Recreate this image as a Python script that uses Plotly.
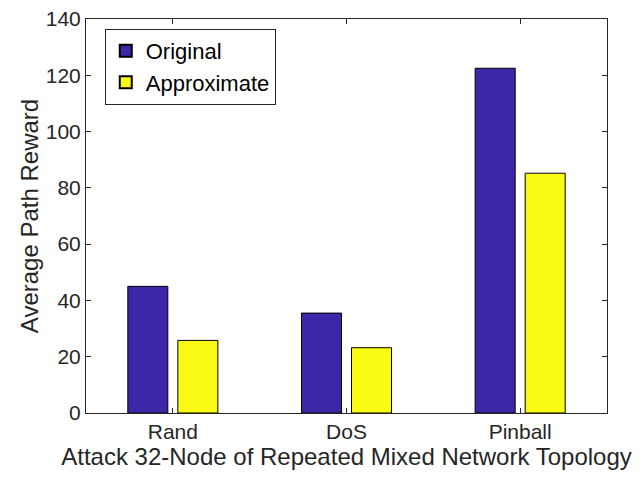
import plotly.graph_objects as go

categories = ["Rand", "DoS", "Pinball"]
original = [45.0, 35.5, 122.5]
approximate = [25.8, 23.2, 85.2]

fig = go.Figure()
fig.add_trace(go.Bar(
    x=[1, 2, 3], y=original, name="Original",
    marker=dict(color="#3E26A8", line=dict(color="black", width=1)),
))
fig.add_trace(go.Bar(
    x=[1, 2, 3], y=approximate, name="Approximate",
    marker=dict(color="#F9FB15", line=dict(color="black", width=1)),
))

axis_common = dict(
    showline=True, linecolor="#262626", linewidth=1, mirror="ticks",
    ticks="inside", ticklen=5, tickcolor="#262626", showgrid=False, zeroline=False,
    tickfont=dict(size=21, color="#262626"),
    ticklabeloverflow="allow", automargin=False,
)

# the page body adds an 8px offset, so the figure is shrunk by that amount
fig.update_layout(
    width=635, height=474,
    margin=dict(l=78, r=36, t=11, b=69),
    paper_bgcolor="white", plot_bgcolor="white",
    font=dict(family="Liberation Sans, Arial, sans-serif", color="#262626"),
    barmode="group", bargap=0.424, bargroupgap=0.2,
    xaxis=dict(
        range=[0.5, 3.5], tickvals=[1, 2, 3], ticktext=categories,
        title=dict(text="Attack 32-Node of Repeated Mixed Network Topology",
                   font=dict(size=24), standoff=4),
        **axis_common,
    ),
    yaxis=dict(
        range=[0, 140], tick0=0, dtick=20,
        title=dict(text="Average Path Reward", font=dict(size=24), standoff=0),
        **axis_common,
    ),
    legend=dict(
        x=0.036, y=0.975, xanchor="left", yanchor="top",
        bgcolor="white", bordercolor="#262626", borderwidth=1,
        font=dict(size=22, color="black"), tracegroupgap=0,
        itemsizing="constant",
    ),
)

fig.write_html("out.html")
